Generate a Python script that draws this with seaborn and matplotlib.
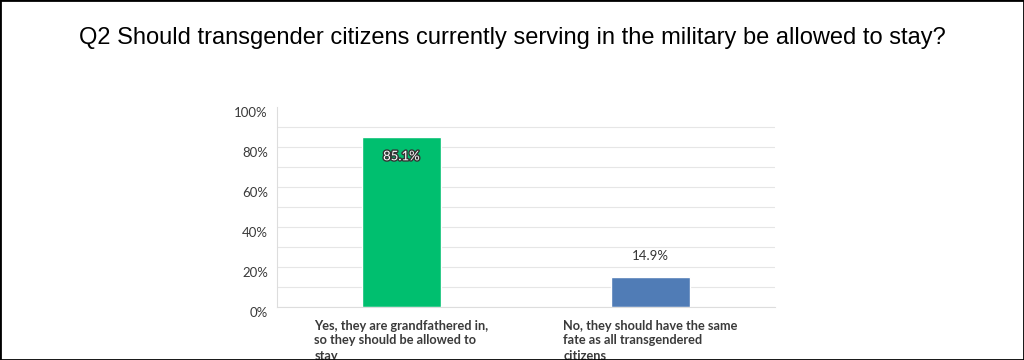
import matplotlib
matplotlib.use("Agg")
import matplotlib.pyplot as plt
import matplotlib.patheffects as pe
import matplotlib.transforms as mtransforms
import seaborn as sns
import pandas as pd
from matplotlib.ticker import MultipleLocator, FixedLocator

title = "Q2 Should transgender citizens currently serving in the military be allowed to stay?"
categories = [
    "Yes, they are grandfathered in,\nso they should be allowed to\nstay",
    "No, they should have the same\nfate as all transgendered\ncitizens",
]
values = [85.1, 14.9]
value_labels = ["85.1%", "14.9%"]
colors = ["#00BF6F", "#507CB6"]
yticks = [0, 20, 40, 60, 80, 100]
ytick_labels = ["0%", "20%", "40%", "60%", "80%", "100%"]

sns.set_theme(style="white")
plt.rcParams["font.family"] = ["Lato", "DejaVu Sans"]

df = pd.DataFrame({"category": categories, "value": values})

fig = plt.figure(figsize=(10.24, 3.6), dpi=100)
ax = fig.add_axes([277 / 1024, 1 - 307 / 360, (775 - 277) / 1024, 200 / 360])

sns.barplot(data=df, x="category", y="value", hue="category",
            palette=colors, width=0.32, ax=ax, legend=False, saturation=1)

ax.set_xlim(-0.5, 1.5)
ax.set_ylim(0, 100)
ax.yaxis.set_major_locator(FixedLocator(yticks))
ax.set_yticklabels(ytick_labels, fontsize=9.5, color="#3a3a3a")
ax.yaxis.set_minor_locator(MultipleLocator(10))
ax.grid(axis="y", which="both", color="#e6e6e6", linewidth=0.8)
ax.set_axisbelow(True)
ax.tick_params(axis="y", length=0, pad=6.5)
ax.tick_params(axis="x", length=0, pad=9)
ax.yaxis.get_major_ticks()[-1].gridline.set_visible(False)
shift = mtransforms.ScaledTranslation(0, -5 / 100, fig.dpi_scale_trans)
for lbl in ax.get_yticklabels():
    lbl.set_transform(lbl.get_transform() + shift)
for lbl in ax.get_xticklabels():
    lbl.set_fontsize(9.2)
    lbl.set_color("#3a3a3a")
    lbl.set_fontweight("bold")
    lbl.set_multialignment("left")
    lbl.set_linespacing(1.3)
    lbl.set_va("top")
ax.set_xlabel("")
ax.set_ylabel("")
for s in ["top", "right"]:
    ax.spines[s].set_visible(False)
ax.spines["left"].set_color("#dddddd")
ax.spines["bottom"].set_color("#dddddd")
ax.spines["left"].set_linewidth(0.8)
ax.spines["bottom"].set_linewidth(0.8)

# value labels
ax.annotate(value_labels[0], (0, values[0]), xytext=(0, -14), textcoords="offset points",
            ha="center", va="center", fontsize=9.5, color="white",
            path_effects=[pe.withStroke(linewidth=2, foreground="#333333")])
ax.annotate(value_labels[1], (1, values[1]), xytext=(0, 15), textcoords="offset points",
            ha="center", va="center", fontsize=9.5, color="#333333")

fig.text(0.5, 1 - 38 / 360, title, ha="center", va="center", fontsize=17,
         family=["Liberation Sans", "DejaVu Sans"], color="black")

# outer border
fig.patches.append(plt.Rectangle((0, 0), 1, 1, transform=fig.transFigure,
                                 fill=False, edgecolor="black", linewidth=2))

fig.savefig("out.png", dpi=100)
